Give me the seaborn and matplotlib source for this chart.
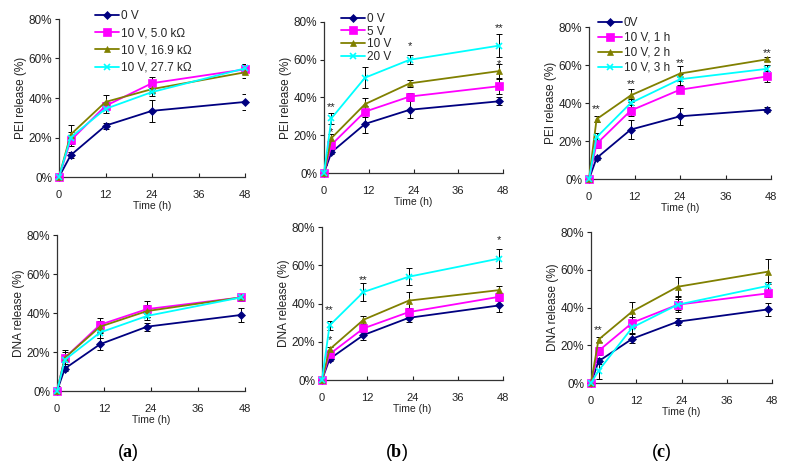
import numpy as np
import pandas as pd
import matplotlib
matplotlib.use('Agg')
import matplotlib.pyplot as plt
import seaborn as sns
from matplotlib.ticker import PercentFormatter

# ---- data (release %, mean and error) ----
time_a_pei = [0, 3, 12, 24, 48]
time_std = [0, 2, 11, 23, 47]
time_c_pei = [0, 2, 11, 24, 47]

labels_a = ['0 V', '10 V, 5.0 kΩ', '10 V, 16.9 kΩ', '10 V, 27.7 kΩ']
labels_b = ['0 V', '5 V', '10 V', '20 V']
labels_c = ['0V', '10 V, 1 h', '10 V, 2 h', '10 V, 3 h']

pei_a = [[0, 11, 26, 33.5, 38],
         [0, 18.5, 36, 47.5, 54.5],
         [0, 21.5, 38, 44.5, 53],
         [0, 20, 34.5, 43, 55]]
pei_a_err = [[0.5, 1.5, 1.5, 5.5, 4],
             [0.5, 3, 2, 3, 2.5],
             [0.5, 5, 3.5, 2, 3],
             [0.5, 3, 2, 2, 2]]

dna_a = [[0, 11.5, 24, 33, 39],
         [0, 17, 34, 42, 48],
         [0, 17, 33, 41, 48],
         [0, 16, 30, 38.5, 48]]
dna_a_err = [[0.5, 1, 3, 2, 3.5],
             [0.5, 4, 3.5, 4, 2],
             [0.5, 3, 3, 3, 2],
             [2.5, 2, 3, 2, 2]]

pei_b = [[0, 11, 26, 33.5, 38],
         [0, 15, 32.5, 40.5, 46],
         [0, 18.5, 36.5, 47.5, 54],
         [0, 29, 50.5, 60, 67.5]]
pei_b_err = [[0.5, 1, 5, 4.5, 2],
             [0.5, 2, 3, 2, 4],
             [0.5, 2, 3, 2, 3.5],
             [4, 3, 5.5, 2.5, 6]]

dna_b = [[0, 11, 23.5, 32.5, 39],
         [0, 13.5, 27, 35.5, 43.5],
         [0, 16, 31.5, 41.5, 47],
         [0, 28.5, 46, 54, 63.5]]
dna_b_err = [[0.5, 1, 2.5, 2, 3.5],
             [0.5, 1.5, 2, 2, 2],
             [0.5, 1.5, 2, 4.5, 2],
             [0.5, 2.5, 4.5, 4.5, 5]]

pei_c = [[0, 11, 26, 33, 36.5],
         [0, 18.5, 36, 47, 54],
         [0, 31.5, 44, 55.5, 63],
         [0, 22, 40, 52.5, 58]]
pei_c_err = [[0.5, 1, 5, 4.5, 1.5],
             [0.5, 2, 3, 2, 3],
             [5, 1.5, 3.5, 4, 1],
             [0.5, 2, 2, 3, 2]]

dna_c = [[0, 11.5, 23.5, 32.5, 39],
         [0, 17, 32, 41.5, 47.5],
         [0, 23, 38, 51, 59],
         [0, 6.5, 29.5, 41.5, 51.5]]
dna_c_err = [[0.5, 1.5, 2.5, 2, 3.5],
             [0.5, 2, 3, 3, 2],
             [0.5, 1.5, 5, 5, 6.5],
             [3, 4.5, 3, 4, 2]]

# significance marks: (time, release %, text)
stars_b_pei = [(2, 35, '**'), (2, 21.5, '*'), (23, 67, '*'), (47, 77, '**'), (47, 57.5, '*')]
stars_b_dna = [(2, 36.5, '**'), (2, 21, '*'), (11, 52.5, '**'), (47, 73, '*')]
stars_c_pei = [(2, 37, '**'), (11, 50, '**'), (24, 61, '**'), (47, 66.5, '**')]
stars_c_dna = [(2, 28, '**')]

colors = ['#000080', '#FF00FF', '#808000', '#00FFFF']
markers = ['D', 's', '^', 'x']
msizes = [4, 6, 5, 5]

sns.set_style("ticks")
plt.rcParams['font.family'] = ['Liberation Sans', 'DejaVu Sans']
plt.rcParams['mathtext.fontset'] = 'custom'
plt.rcParams['mathtext.rm'] = 'Liberation Serif'
plt.rcParams['mathtext.bf'] = 'Liberation Serif:bold'

fig = plt.figure(figsize=(7.88, 4.61), dpi=100)


def draw_panel(rect, times, labels, values, errors, ylabel, stars=None,
               legend_at=None, spacing=0.3):
    ax = fig.add_axes(rect)
    for i, lab in enumerate(labels):
        v = np.array(values[i]) / 100
        e = np.array(errors[i]) / 100
        df = pd.DataFrame({'t': times, 'v': v})
        ax.errorbar(times, v, yerr=e, fmt='none', ecolor='black',
                    elinewidth=0.7, capsize=2, capthick=0.7, zorder=2)
        sns.lineplot(data=df, x='t', y='v', ax=ax, color=colors[i],
                     marker=markers[i], markersize=msizes[i],
                     markeredgecolor=colors[i], markeredgewidth=1.2 if markers[i] == 'x' else 0.5,
                     linewidth=1.3, label=lab, clip_on=False, zorder=3 + i * 0.1)
    if stars:
        for t, y, s in stars:
            ax.text(t, y / 100, s, ha='center', va='center', fontsize=8, color='#222222')
    ax.set_xlim(0, 48)
    ax.set_ylim(0, 0.8)
    ax.set_xticks([0, 12, 24, 36, 48])
    ax.set_yticks([0, 0.2, 0.4, 0.6, 0.8])
    ax.yaxis.set_major_formatter(PercentFormatter(1, decimals=0))
    ax.tick_params(axis='x', direction='in', length=3, pad=9.5, labelsize=8, colors='#222222')
    ax.tick_params(axis='y', direction='out', length=3, pad=2, labelsize=8.5, colors='#222222')
    for s in ['left', 'bottom']:
        ax.spines[s].set_color('#333333')
        ax.spines[s].set_linewidth(0.9)
    sns.despine(ax=ax)
    ax.set_xlabel('Time (h)', fontsize=7.5, labelpad=0.5, color='#222222')
    ax.set_ylabel(ylabel, fontsize=8.5, labelpad=1, color='#222222')
    if legend_at is not None:
        ax.legend(loc='upper left', bbox_to_anchor=legend_at, bbox_transform=fig.transFigure,
                  frameon=False, fontsize=8.5, handlelength=2.0, handletextpad=0.2,
                  borderpad=0, borderaxespad=0, labelspacing=spacing)
    else:
        ax.get_legend().remove()
    return ax


W, H = 788, 461


def rect(x0, x1, ytop, ybot):
    return [x0 / W, 1 - ybot / H, (x1 - x0) / W, (ybot - ytop) / H]


draw_panel(rect(59, 245, 19, 177), time_a_pei, labels_a, pei_a, pei_a_err,
           'PEI release (%)', legend_at=(95 / W, 1 - 10 / H), spacing=0.45)
draw_panel(rect(57, 245, 235, 391), time_std, labels_a, dna_a, dna_a_err,
           'DNA release (%)')
draw_panel(rect(324, 503, 22, 173), time_std, labels_b, pei_b, pei_b_err,
           'PEI release (%)', stars=stars_b_pei, legend_at=(341 / W, 1 - 13 / H), spacing=0.05)
draw_panel(rect(322, 503, 227, 380), time_std, labels_b, dna_b, dna_b_err,
           'DNA release (%)', stars=stars_b_dna)
draw_panel(rect(589, 771, 27, 179), time_c_pei, labels_c, pei_c, pei_c_err,
           'PEI release (%)', stars=stars_c_pei, legend_at=(598 / W, 1 - 17 / H), spacing=0.25)
draw_panel(rect(591, 772, 232, 383), time_std, labels_c, dna_c, dna_c_err,
           'DNA release (%)', stars=stars_c_dna)

for x, letter in [(128, 'a'), (396, 'b'), (661, 'c')]:
    fig.text(x / W, 1 - 452 / H, r'($\mathbf{' + letter + r'}$)', ha='center', va='center',
             fontsize=13, color='black')

fig.savefig('out.png', dpi=100)
